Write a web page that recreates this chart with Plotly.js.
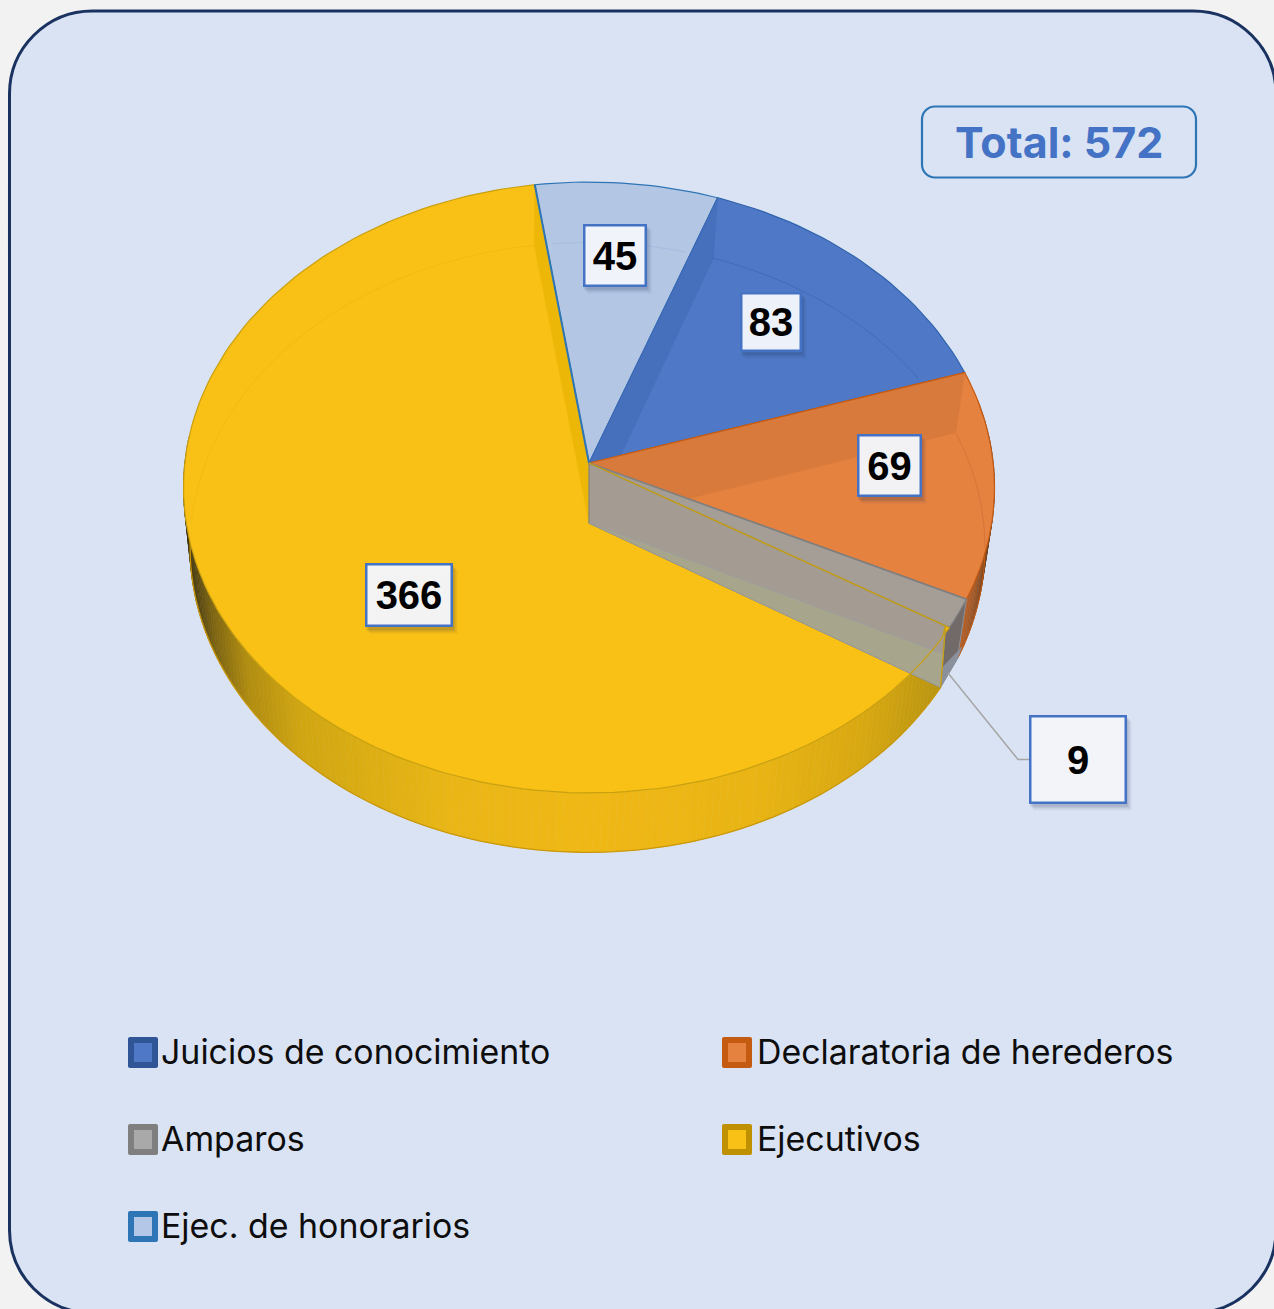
<!DOCTYPE html>
<html><head><meta charset="utf-8">
<script src="https://cdn.plot.ly/plotly-3.0.1.min.js"></script>
<style>html,body{margin:0;padding:0;background:#f2f2f2}#c{width:1274px;height:1309px}</style>
</head><body><div id="c"></div>
<script>
// ---- data ----
const categories = ["Juicios de conocimiento","Declaratoria de herederos","Amparos","Ejecutivos","Ejec. de honorarios"];
const values = [83, 69, 9, 366, 45];
const totalPrefix = "Total: ";

// ---- style ----
const topColors   = ["#4f79c6","#e58240","#a59e96","#f9c015","#b3c6e4"];
const edgeColors  = ["#2f63ad","#c55a11","#808080","#c9a00f","#2e75b6"];
const arcColors   = ["#416cb6","#d5753a","#909090","#f3bb12","#a6bde0"];
const swatchEdge  = ["#2f5597","#c55a11","#7f7f7f","#bf9000","#2e75b6"];
const swatchFill  = ["#4f79c6","#e58240","#a9a9a9","#f9c015","#b4c7e7"];

// ---- projection of the tilted disc (pixel space) ----
const W = 1274, H = 1309;
const cx = 589, cy = 463, R = 404.2, K = 303.5, P = 0.0802, THICK = 60, SX = 0.98, SY = 0.998, BX = -1.5;
const ROT = 20;
const rad = d => d * Math.PI / 180;
function topPt(t, r = 1) {
  const s = Math.sin(rad(t)) * r, c = Math.cos(rad(t)) * r, w = 1 + P * c;
  return [cx + R * s / w, cy - K * c / w];
}
function botPt(t) {
  const q = topPt(t);
  return [cx + BX + SX * (q[0] - cx), cy + THICK + SY * (q[1] - cy)];
}
function unproject(q) {
  const u = (q[0] - cx) / R, v = -(q[1] - cy) / K;
  const Y = v / (1 - P * v), X = u * (1 + P * Y);
  let a = Math.atan2(X, Y) * 180 / Math.PI;
  return {r: Math.hypot(X, Y), a};
}
function inWedge(a, t0, t1) {
  while (a < t0) a += 360;
  while (a >= t0 + 360) a -= 360;
  return a <= t1;
}
function cross(a, b, c, d) {
  const d1 = [b[0]-a[0], b[1]-a[1]], d2 = [d[0]-c[0], d[1]-c[1]];
  const den = d1[0]*d2[1] - d1[1]*d2[0];
  const u = ((c[0]-a[0])*d2[1] - (c[1]-a[1])*d2[0]) / den;
  return [a[0]+u*d1[0], a[1]+u*d1[1]];
}
function arcPts(fn, t0, t1) {
  const n = Math.max(2, Math.ceil(Math.abs(t1 - t0) / 1.5));
  const o = [];
  for (let i = 0; i <= n; i++) o.push(fn(t0 + (t1 - t0) * i / n));
  return o;
}
function hex(c){return [1,3,5].map(i=>parseInt(c.substr(i,2),16));}
function ramp(stops, x) {
  if (x <= stops[0][0]) return stops[0][1];
  for (let i = 1; i < stops.length; i++) if (x <= stops[i][0]) {
    const f = (x - stops[i-1][0])/(stops[i][0]-stops[i-1][0]);
    const a = hex(stops[i-1][1]), b = hex(stops[i][1]);
    return "rgb("+a.map((v,j)=>Math.round(v+(b[j]-v)*f)).join(",")+")";
  }
  return stops[stops.length-1][1];
}

const total = values.reduce((a,b)=>a+b,0);
const bounds = [ROT];
values.forEach(v => bounds.push(bounds[bounds.length-1] + v / total * 360));

const traces = [];
function poly(pts, fill, lineColor, lw, name) {
  const closed = pts.concat([pts[0]]);
  traces.push({type:"scatter",mode:"lines",x:closed.map(p=>p[0]),y:closed.map(p=>p[1]),
    fill:"toself",fillcolor:fill,line:{color:lineColor||fill,width:lw===undefined?1:lw},
    hoverinfo:"skip",showlegend:false,name:name||""});
}
function stroke(pts, color, lw) {
  traces.push({type:"scatter",mode:"lines",x:pts.map(p=>p[0]),y:pts.map(p=>p[1]),
    line:{color,width:lw,simplify:false},hoverinfo:"skip",showlegend:false});
}

const apex = [cx, cy], apexB = [cx, cy + THICK];
const t = bounds; // 0 Juicios, 1 Decl, 2 Amparos, 3 Ejecutivos, 4 honorarios, 5 end
const corner = topPt(t[3], 0.99);

// outer wall: Ejecutivos
const yellowStops = [[189,"#3d3210"],[215,"#7a6210"],[250,"#b08c10"],[300,"#cfa512"],[370,"#dcae14"],[450,"#e9b616"],[590,"#f0b815"],[760,"#e8b414"],[860,"#d8a812"],[940,"#b8940f"]];
for (let a = t[3]; a < 275; a += 1) {
  const b = Math.min(a + 1, 275);
  const col = ramp(yellowStops, botPt((a+b)/2)[0]);
  poly([topPt(a), topPt(b), botPt(b), botPt(a)], col, col, 0.6);
}
stroke(arcPts(botPt, t[3], 275), "#c9980a", 1.3);

// outer wall: Declaratoria
const orangeStops = [[78,"#2a2018"],[92,"#2a2018"],[102,"#6a4020"],[116,"#b8622a"]];
for (let a = 78; a < t[2]; a += 1) {
  const b = Math.min(a + 1, t[2]);
  const col = ramp(orangeStops, (a+b)/2);
  poly([topPt(a), topPt(b), botPt(b), botPt(a)], col, col, 0.6);
}
stroke(arcPts(botPt, 78, t[2]), "#c55a11", 1);

// outer wall: Amparos
poly([topPt(t[2]), corner, botPt(t[3]), botPt(t[2])], "#716a68", "#8a8f98", 1);
const wallMid = [(topPt(t[2])[0]+botPt(t[2])[0])/2, (topPt(t[2])[1]+botPt(t[2])[1])/2 + 18];
poly([wallMid, botPt(t[2]), botPt(t[3]), [(corner[0]+botPt(t[3])[0])/2, (corner[1]+botPt(t[3])[1])/2 + 10]], "#8b919c", "#8b919c", 0.5);

// top surfaces
values.forEach((v, i) => {
  poly([apex].concat(arcPts(topPt, t[i], t[i+1])), topColors[i], edgeColors[i], 1.2, categories[i]);
});

// back faces seen through the translucent top
poly([apex, topPt(t[0]), botPt(t[0]), cross(botPt(t[0]), apexB, apex, topPt(t[1]))], "#4670bb", "#4670bb", 0.5);
poly([apex, topPt(t[1]), botPt(t[1]), cross(botPt(t[1]), apexB, apex, topPt(t[2]))], "#d87a3c", "#d87a3c", 0.5);
poly([apex, topPt(t[4]), botPt(t[4]), apexB], "#edb708", "#edb708", 0.5);

// far rim seen through the top
[[0,t[0],t[1]],[1,t[1],t[2]],[4,t[4],t[5]],[3,270,t[4]]].forEach(([i,a0,a1]) => {
  const pts = arcPts(botPt, a0, a1).filter(q => {
    const u = unproject(q);
    return u.r < 1 && inWedge(u.a, t[i], t[i+1]);
  });
  if (pts.length > 1) stroke(pts, arcColors[i], 1);
});

// re-stroke boundaries that the back faces cover
stroke([apex, topPt(t[1])], "#c55a11", 1.2);
stroke([apex, topPt(t[0])], "#3a68b4", 1);
stroke([apex, topPt(t[4])], "#2e75b6", 2);

// amparos inner wall
poly([apex, corner, botPt(t[3]), apexB], "#a49b92", "#85827c", 1.2);
poly([apexB, botPt(t[3]), cross(apexB, botPt(t[2]), corner, botPt(t[3]))], "#a8a58d", "#9ba0a0", 0.8);
stroke([apex, topPt(t[2])], "#808080", 1.5);
stroke([apex, corner, botPt(t[3])], "#c9a00f", 1.3);
stroke([corner].concat(arcPts(topPt, t[3] + 2, t[3] + 10)), "#c9a00f", 1.2);

// leader line for the small slice
stroke([[948,673],[1018,759.5],[1030,759.5]], "#a6a6a6", 1.5);

// ---- page furniture ----
function rr(x0,y0,x1,y1,r){
  const c = r * 0.5523;
  return `M${x0+r},${y0} L${x1-r},${y0} C${x1-r+c},${y0} ${x1},${y0+r-c} ${x1},${y0+r} `+
         `L${x1},${y1-r} C${x1},${y1-r+c} ${x1-r+c},${y1} ${x1-r},${y1} `+
         `L${x0+r},${y1} C${x0+r-c},${y1} ${x0},${y1-r+c} ${x0},${y1-r} `+
         `L${x0},${y0+r} C${x0},${y0+r-c} ${x0+r-c},${y0} ${x0+r},${y0} Z`;
}
const shapes = [
  {type:"path",layer:"below",xref:"x",yref:"y",path:rr(9.5,11,1276,1313,83),fillcolor:"#dae3f3",line:{color:"#1a3260",width:3}},
  {type:"path",layer:"below",xref:"x",yref:"y",path:rr(922,106.5,1196,177.5,13),fillcolor:"rgba(0,0,0,0)",line:{color:"#2e75b6",width:2.2}}
];
const annotations = [];
annotations.push({xref:"x",yref:"y",x:1059,y:142,text:totalPrefix+total,showarrow:false,xanchor:"center",yanchor:"middle",
  font:{family:"Inter",size:43,color:"#4472c4",weight:700}});

// value labels: box centre and size per slice
const labelBoxes = [[771,322,62,60],[889.5,465.5,65,63],[1078,759,98,89],[409,595,88,64],[615,255,64,63]];
values.forEach((v,i)=>{
  const [x,y,w,h] = labelBoxes[i];
  [[7,8,.03],[6,7,.04],[5,6,.05],[4,5,.07],[3,4,.08]].forEach(([dx,dy,al])=>{
    shapes.push({type:"rect",layer:"above",xref:"x",yref:"y",x0:x-w/2+dx-2,x1:x+w/2+dx-2,y0:y-h/2+dy-1,y1:y+h/2+dy-1,
      fillcolor:`rgba(30,45,80,${al})`,line:{width:0}});
  });
  annotations.push({xref:"x",yref:"y",x,y,text:"<b>"+v+"</b>",showarrow:false,xanchor:"center",yanchor:"middle",
    width:w-5,height:h-5,borderpad:0,borderwidth:2.5,bordercolor:"#4472c4",bgcolor:"rgba(245,247,252,0.96)",align:"center",valign:"middle",
    font:{family:"Liberation Sans",size:40,color:"#000"}});
});

// legend rows
const legendX = [128,722,128,722,128], legendTextX = [159,755,159,755,159], legendY = [1051,1051,1138,1138,1225];
categories.forEach((c,i)=>{
  const x=legendX[i], y=legendY[i]+1;
  shapes.push({type:"path",layer:"below",xref:"x",yref:"y",path:rr(x,y-15,x+30,y+16,2),fillcolor:swatchEdge[i],line:{width:0}});
  shapes.push({type:"rect",layer:"below",xref:"x",yref:"y",x0:x+6,x1:x+24,y0:y-9,y1:y+10,fillcolor:swatchFill[i],line:{width:0}});
  annotations.push({xref:"x",yref:"y",x:legendTextX[i],y:legendY[i],text:c,showarrow:false,xanchor:"left",yanchor:"middle",
    font:{family:"Inter",size:33.9,color:"#0d0d0d"}});
});

Plotly.newPlot("c",traces,{
  width:W,height:H,margin:{l:0,r:0,t:0,b:0},
  paper_bgcolor:"#f2f2f2",plot_bgcolor:"rgba(0,0,0,0)",showlegend:false,hovermode:false,
  xaxis:{range:[0,W],visible:false,fixedrange:true},
  yaxis:{range:[H,0],visible:false,fixedrange:true},
  shapes,annotations
},{displayModeBar:false,staticPlot:true});
</script></body></html>
